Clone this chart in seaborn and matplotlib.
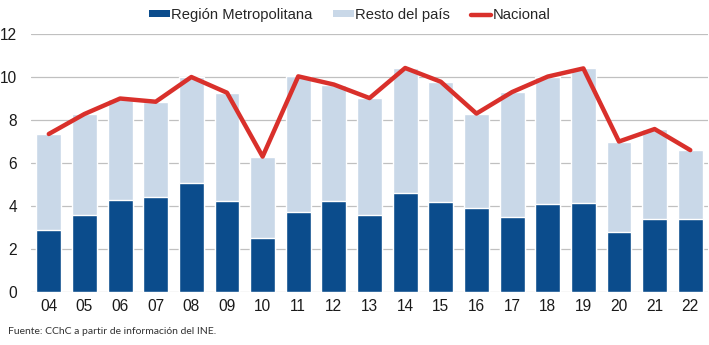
import numpy as np
import pandas as pd
import matplotlib
matplotlib.use("Agg")
import matplotlib.pyplot as plt
from matplotlib.patches import Patch
from matplotlib.lines import Line2D
import seaborn as sns

# Data (millones)
years = ["04", "05", "06", "07", "08", "09", "10", "11", "12", "13",
         "14", "15", "16", "17", "18", "19", "20", "21", "22"]
region_metropolitana = [2.88, 3.58, 4.28, 4.43, 5.05, 4.23, 2.53, 3.73, 4.25, 3.58,
                        4.59, 4.17, 3.89, 3.50, 4.09, 4.12, 2.80, 3.38, 3.38]
nacional = [7.35, 8.28, 9.00, 8.85, 10.00, 9.27, 6.30, 10.03, 9.65, 9.02,
            10.42, 9.78, 8.30, 9.30, 10.02, 10.40, 7.00, 7.58, 6.60]
y_ticks = [0, 2, 4, 6, 8, 10, 12]

df = pd.DataFrame({"anio": years, "rm": region_metropolitana, "nacional": nacional})

DARK = "#0B4C8C"
LIGHT = "#C9D8E8"
RED = "#D9302B"

sns.set_theme(style="white")
plt.rcParams["font.family"] = ["Liberation Sans", "DejaVu Sans"]

fig = plt.figure(figsize=(7.09, 3.45), dpi=100)
ax = fig.add_axes([0.0437, 0.1536, 0.955, 0.7478])

# Total bar (national) in light blue, Metropolitan Region stacked on the bottom
sns.barplot(data=df, x="anio", y="nacional", color=LIGHT, width=0.70,
            saturation=1, ax=ax, zorder=2)
sns.barplot(data=df, x="anio", y="rm", color=DARK, width=0.70,
            saturation=1, ax=ax, zorder=3)
sns.lineplot(x=np.arange(len(years)), y=df["nacional"], color=RED, lw=3.2,
             ax=ax, zorder=4)

ax.set_ylim(0, 12)
ax.set_xlim(-0.5, len(years) - 0.5)
ax.set_yticks(y_ticks)
ax.set_yticklabels([str(t) for t in y_ticks])
ax.yaxis.grid(True, color="#C0C0C0", lw=0.9, zorder=0)
ax.set_axisbelow(True)
for s in ax.spines.values():
    s.set_visible(False)
ax.set_xlabel("")
ax.set_ylabel("")
ax.tick_params(axis="both", length=0, labelsize=11.2, colors="#1a1a1a")
ax.tick_params(axis="x", pad=5)
ax.tick_params(axis="y", pad=10)

handles = [
    Patch(facecolor=DARK, edgecolor="none"),
    Patch(facecolor=LIGHT, edgecolor="none"),
    Line2D([0], [0], color=RED, lw=3.2),
]
labels = ["Región Metropolitana", "Resto del país", "Nacional"]
fig.legend(handles, labels, loc="center", bbox_to_anchor=(350 / 709, 1 - 15 / 345),
           ncol=3, frameon=False, fontsize=10.6, handlelength=1.4, handleheight=0.3,
           handletextpad=0.1, columnspacing=1.4, borderaxespad=0, borderpad=0)

fig.text(8 / 709, 1 - 331 / 345, "Fuente: CChC a partir de información del INE.",
         fontsize=7.5, family=["Lato", "DejaVu Sans"], color="#333333", va="center")

fig.savefig("out.png", dpi=100)
